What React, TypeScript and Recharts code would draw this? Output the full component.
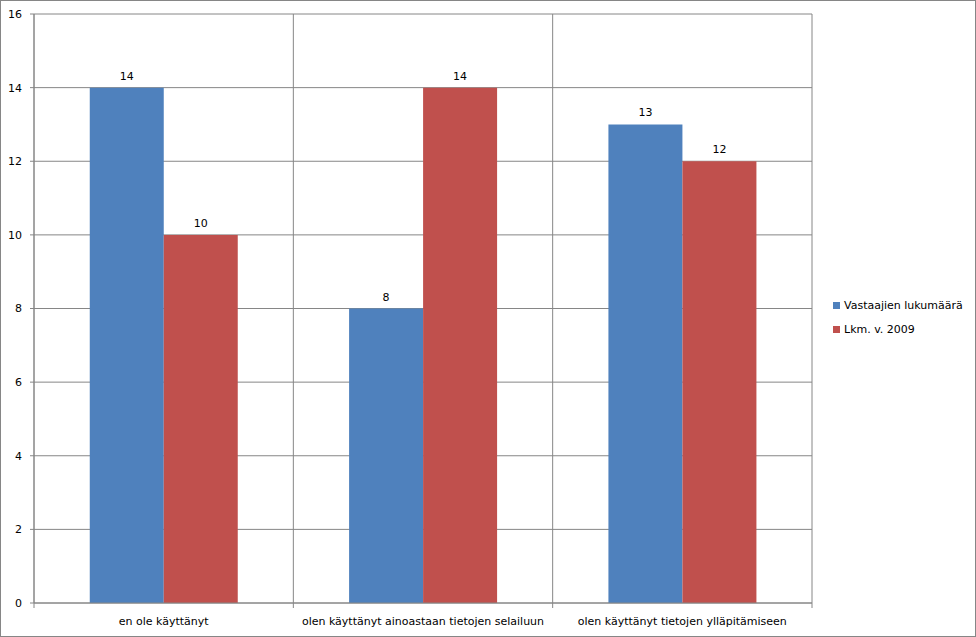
import React from 'react';
import { BarChart, Bar, XAxis, YAxis, CartesianGrid, Legend, LabelList } from 'recharts';

const categories = [
  'en ole käyttänyt',
  'olen käyttänyt ainoastaan tietojen selailuun',
  'olen käyttänyt tietojen ylläpitämiseen',
];
const vastaajat = [14, 8, 13];
const lkm2009 = [10, 14, 12];
const yTicks = [0, 2, 4, 6, 8, 10, 12, 14, 16];
// category boundaries (grid lines + tick marks) and centres (labels)
const boundaryTicks = [0, 1, 2, 3];
const xTicks = [0, 0.5, 1, 1.5, 2, 2.5, 3];

const seriesNames = ['Vastaajien lukumäärä', 'Lkm. v. 2009'];
const BLUE = '#4F81BD';
const RED = '#C0504D';
const seriesColors = [BLUE, RED];
const GRID = '#868686';
const FONT = '"DejaVu Sans", Verdana, sans-serif';

const data = categories.map((name, i) => ({
  name,
  idx: i,
  a: vastaajat[i],
  b: lkm2009[i],
}));

function LegendBox() {
  return (
    <div style={{ fontFamily: FONT, fontSize: 11, color: '#000' }}>
      {seriesNames.map((n, i) => (
        <div key={n} style={{ display: 'flex', alignItems: 'center', height: 24 }}>
          <span style={{ display: 'inline-block', width: 7, height: 7, background: seriesColors[i], marginRight: 4 }} />
          <span>{n}</span>
        </div>
      ))}
    </div>
  );
}

function CatTick({ x, y, payload }: any) {
  const v = payload.value;
  if (Number.isInteger(v)) {
    return <line x1={x} x2={x} y1={y} y2={y + 5} stroke={GRID} />;
  }
  return (
    <text x={x} y={y + 14} dy="0.71em" textAnchor="middle" fill="#000" fontSize={11} fontFamily={FONT}>
      {categories[Math.floor(v)]}
    </text>
  );
}

export default function App() {
  return (
    <div style={{ position: 'absolute', left: 0, top: 0, width: 976, height: 637, background: '#fff', fontFamily: FONT }}>
      <BarChart
        width={976}
        height={637}
        data={data}
        margin={{ top: 14, right: 164, bottom: 0, left: 0 }}
        barCategoryGap="21.5%"
        barGap={0}
      >
        <CartesianGrid xAxisId="grid" stroke={GRID} strokeWidth={1} verticalValues={boundaryTicks} />
        <XAxis dataKey="name" hide height={0} />
        <XAxis
          xAxisId="grid"
          type="number"
          dataKey="idx"
          domain={[0, 3]}
          ticks={xTicks}
          interval={0}
          height={34}
          axisLine={{ stroke: GRID }}
          tickLine={false}
          tickSize={0}
          tickMargin={0}
          tick={<CatTick />}
        />
        <YAxis
          width={34}
          domain={[0, 16]}
          ticks={yTicks}
          axisLine={{ stroke: GRID }}
          tickLine={{ stroke: GRID }}
          tickSize={4}
          tickMargin={8}
          tick={{ fill: '#000', fontSize: 11, fontFamily: FONT }}
        />
        <Legend
          layout="vertical"
          align="center"
          verticalAlign="middle"
          content={<LegendBox />}
          wrapperStyle={{ left: 833, top: 293, width: 140 }}
        />
        <Bar dataKey="a" name={seriesNames[0]} fill={BLUE} isAnimationActive={false}>
          <LabelList dataKey="a" position="top" offset={8} fill="#000" fontSize={11} fontFamily={FONT} />
        </Bar>
        <Bar dataKey="b" name={seriesNames[1]} fill={RED} isAnimationActive={false}>
          <LabelList dataKey="b" position="top" offset={8} fill="#000" fontSize={11} fontFamily={FONT} />
        </Bar>
      </BarChart>
      <div style={{ position: 'absolute', left: 0, top: 0, width: 976, height: 637, boxSizing: 'border-box', border: `1px solid ${GRID}`, pointerEvents: 'none' }} />
    </div>
  );
}
